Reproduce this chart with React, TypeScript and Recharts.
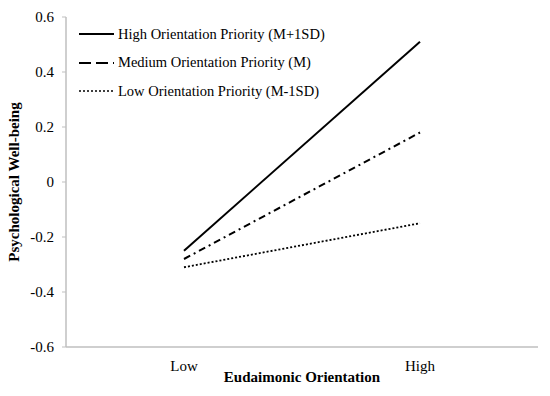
import React from 'react';
import { LineChart, Line, XAxis, YAxis } from 'recharts';

const categories = ['Low', 'High'];
const highPriority = [-0.25, 0.51];
const mediumPriority = [-0.28, 0.18];
const lowPriority = [-0.31, -0.15];
const yTicks = [-0.6, -0.4, -0.2, 0, 0.2, 0.4, 0.6];

const seriesNames = [
  'High Orientation Priority (M+1SD)',
  'Medium Orientation Priority (M)',
  'Low Orientation Priority (M-1SD)',
];

// x = band centre, categories sit between the tick marks like in Excel
const data = categories.map((c, i) => ({
  x: i + 0.5,
  name: c,
  high: highPriority[i],
  medium: mediumPriority[i],
  low: lowPriority[i],
}));

const boundaryTicks = categories.map((_, i) => i).concat(categories.length);
const centreTicks = categories.map((_, i) => i + 0.5);

const FONT = '"Liberation Serif", "DejaVu Serif", serif';
const AXIS = '#bfbfbf';

const legendDash = ['', '12 5', '2 2'];
const legendWidth = [2, 2, 1.5];

// drawn as an overlay so it doesn't eat into the plot area
const LegendBox = () => (
  <div style={{ position: 'absolute', left: 79, top: 20, fontFamily: FONT, fontSize: 14.5, color: '#000' }}>
    {seriesNames.map((n, i) => (
      <div key={n} style={{ display: 'flex', alignItems: 'center', height: 28.5 }}>
        <svg width={36} height={10} style={{ marginRight: 3 }}>
          <line x1={0} y1={5} x2={35} y2={5} stroke="#000" strokeWidth={legendWidth[i]} strokeDasharray={legendDash[i] || undefined} />
        </svg>
        <span>{n}</span>
      </div>
    ))}
  </div>
);

const YLabel = (props: any) => {
  const { viewBox } = props;
  const cx = viewBox.x + 19;
  const cy = viewBox.y + viewBox.height / 2;
  return (
    <text x={cx} y={cy} transform={`rotate(-90, ${cx}, ${cy})`} textAnchor="middle" fontFamily={FONT} fontSize={15} fontWeight="bold" fill="#000">
      Psychological Well-being
    </text>
  );
};

export default function App() {
  return (
    <div style={{ position: 'absolute', left: 0, top: 0, width: 550, height: 396, background: '#fff' }}>
      <LineChart width={550} height={396} data={data} margin={{ top: 17, right: 12, bottom: 0, left: 0 }}>
        <XAxis
          xAxisId="a"
          type="number"
          dataKey="x"
          domain={[0, categories.length]}
          ticks={boundaryTicks}
          tick={false}
          tickSize={4}
          height={4}
          stroke={AXIS}
          axisLine={{ stroke: AXIS, strokeWidth: 1.5 }}
          tickLine={{ stroke: AXIS }}
        />
        <XAxis
          xAxisId="b"
          type="number"
          dataKey="x"
          domain={[0, categories.length]}
          ticks={centreTicks}
          tickFormatter={(v: number) => categories[Math.floor(v)]}
          axisLine={false}
          tickLine={false}
          tickSize={0}
          tickMargin={9}
          height={45}
          tick={{ fill: '#000', fontFamily: FONT, fontSize: 15 }}
          label={{ value: 'Eudaimonic Orientation', position: 'insideTop', offset: 20, fill: '#000', fontFamily: FONT, fontSize: 15, fontWeight: 'bold' }}
        />
        <YAxis
          type="number"
          domain={[-0.6, 0.6]}
          ticks={yTicks}
          interval={0}
          width={66}
          tickSize={4}
          tickMargin={8}
          tickFormatter={(v: number) => (v === 0 ? '0' : v.toFixed(1))}
          axisLine={{ stroke: AXIS, strokeWidth: 1.5 }}
          tickLine={{ stroke: AXIS }}
          tick={{ fill: '#000', fontFamily: FONT, fontSize: 15 }}
          label={<YLabel />}
        />
        <Line xAxisId="a" type="linear" dataKey="high" name={seriesNames[0]} stroke="#000" strokeWidth={2} dot={false} isAnimationActive={false} />
        <Line xAxisId="a" type="linear" dataKey="medium" name={seriesNames[1]} stroke="#000" strokeWidth={2} strokeDasharray="7 4 2 4" dot={false} isAnimationActive={false} />
        <Line xAxisId="a" type="linear" dataKey="low" name={seriesNames[2]} stroke="#000" strokeWidth={1.8} strokeDasharray="2 2" dot={false} isAnimationActive={false} />
      </LineChart>
      <LegendBox />
    </div>
  );
}
